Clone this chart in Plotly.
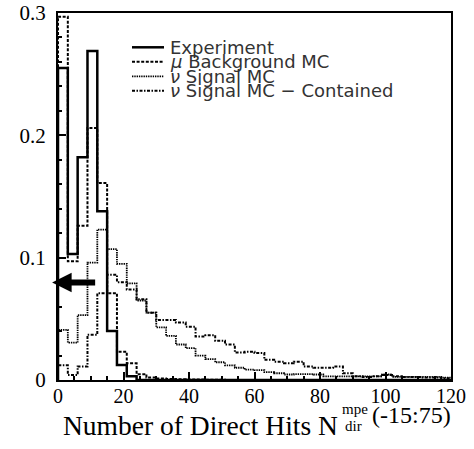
import numpy as np
import plotly.graph_objects as go

# ---------------- data ----------------
bin_edges = list(range(0, 121, 3))  # 40 bins of width 3 over 0..120

experiment = [0.255, 0.103, 0.182, 0.269, 0.138, 0.040, 0.0123, 0.003, 0, 0,
              0, 0, 0, 0, 0, 0, 0, 0, 0, 0,
              0, 0, 0, 0, 0, 0, 0, 0, 0, 0,
              0, 0, 0, 0, 0, 0, 0, 0, 0, 0]

mu_background = [0.297, 0.097, 0.126, 0.206, 0.161, 0.071, 0.023, 0.0136, 0.0048, 0.002,
                 0.0012, 0.0008, 0.0006, 0.0005, 0.0004, 0.0003, 0.0003, 0, 0, 0,
                 0, 0, 0, 0, 0, 0, 0, 0, 0, 0,
                 0, 0, 0, 0, 0, 0, 0, 0, 0, 0]

nu_signal = [0.041, 0.0305, 0.053, 0.096, 0.123, 0.107, 0.095, 0.079, 0.065, 0.055,
             0.043, 0.036, 0.029, 0.026, 0.020, 0.017, 0.0145, 0.012, 0.010, 0.0085,
             0.008, 0.0065, 0.0055, 0.0045, 0.0048, 0.0048, 0.0045, 0.003, 0.003, 0.003,
             0.003, 0.003, 0.003, 0.0045, 0.0025, 0.0025, 0.0025, 0.0025, 0.0025, 0.002]

nu_signal_contained = [0.012, 0.004, 0.011, 0.037, 0.071, 0.086, 0.080, 0.074, 0.066, 0.055,
                       0.049, 0.049, 0.047, 0.0436, 0.0355, 0.0365, 0.032, 0.029, 0.0225, 0.023,
                       0.022, 0.0165, 0.015, 0.0136, 0.015, 0.011, 0.010, 0.010, 0.011, 0.0055,
                       0.003, 0.0025, 0.003, 0.004, 0.003, 0.0025, 0.0025, 0.002, 0.002, 0.0015]

legend_labels = ["Experiment", "<i>μ</i> Background MC", "<i>ν</i> Signal MC",
                 "<i>ν</i> Signal MC − Contained"]

x_ticks = [0, 20, 40, 60, 80, 100, 120]
y_ticks = [0, 0.1, 0.2, 0.3]
y_ticktext = ["0", "0.1", "0.2", "0.3"]

cut_value = 0.0796  # arrow level
cut_from, cut_to = 11.8, -1.8

# ---------------- styles ----------------
styles = [
    dict(width=2.5, dash="solid"),          # experiment
    dict(width=2.0, dash="3px,1.6px"),      # mu background
    dict(width=1.8, dash="1.4px,0.9px"),    # nu signal
    dict(width=2.0, dash="3px,1.5px,1.5px,1.5px"),  # contained
]

W, H = 474, 449
L, R, T, B = 58, 23, 13, 69
pw, ph = W - L - R, H - T - B


def px2paper(px, py):
    return (px - L) / pw, (H - B - py) / ph


def step_xy(vals):
    x = [0] + bin_edges
    y = [0] + list(vals) + [vals[-1]]
    return x, y


fig = go.Figure()
series = [nu_signal_contained, nu_signal, mu_background, experiment]
sty = [styles[3], styles[2], styles[1], styles[0]]
for vals, st in zip(series, sty):
    x, y = step_xy(vals)
    fig.add_trace(go.Scatter(x=x, y=y, mode="lines", line_shape="hv",
                             line=dict(color="black", width=st["width"], dash=st["dash"]),
                             showlegend=False, hoverinfo="skip"))

serif = "Liberation Serif, Times New Roman, serif"
sans = "DejaVu Sans ExtraLight, DejaVu Sans, sans-serif"

fig.update_layout(
    width=W, height=H,
    margin=dict(l=L, r=R, t=T, b=B, pad=0),
    paper_bgcolor="white", plot_bgcolor="white",
    showlegend=False,
    xaxis=dict(range=[0, 120], tickvals=x_ticks, ticks="inside", ticklen=8, tickwidth=1.5,
               tickcolor="black", showline=True, linewidth=2, linecolor="black", mirror=True,
               showgrid=False, zeroline=False, ticklabelstandoff=-3, automargin=False,
               tickfont=dict(family=serif, size=20, color="black"),
               minor=dict(dtick=5, tick0=0, ticks="inside", ticklen=4, tickwidth=1.5,
                          tickcolor="black", showgrid=False)),
    yaxis=dict(range=[0, 0.3], tickvals=y_ticks, ticktext=y_ticktext, ticks="inside",
               ticklen=8, tickwidth=1.5, tickcolor="black", showline=True, linewidth=2,
               linecolor="black", mirror=True, showgrid=False, zeroline=False,
               ticklabelstandoff=6, automargin=False,
               tickfont=dict(family=serif, size=21, color="black"),
               minor=dict(dtick=0.02, tick0=0, ticks="inside", ticklen=4, tickwidth=1.5,
                          tickcolor="black", showgrid=False)),
)

annotations = []
# arrow
annotations.append(dict(x=cut_to, y=cut_value, ax=cut_from, ay=cut_value, xref="x", yref="y",
                        axref="x", ayref="y", showarrow=True, arrowhead=2, arrowsize=0.65,
                        arrowwidth=6, arrowcolor="black", text=""))

# axis title pieces
def add_text(text, px, py, size, xanchor="left", family=serif, color="black"):
    xp, yp = px2paper(px, py)
    annotations.append(dict(text=text, x=xp, y=yp, xref="paper", yref="paper",
                            xanchor=xanchor, yanchor="middle", showarrow=False,
                            font=dict(family=family, size=size, color=color),
                            borderpad=0))

add_text("Number of Direct Hits N", 62, 425, 27.5)
add_text("mpe", 341, 409, 15)
add_text("dir", 344, 426, 15)
add_text("(-15:75)", 371, 415, 24)

# legend
rows = [47.3, 61.8, 76.3, 90.8]
shapes = []
for lab, st, py in zip(legend_labels, styles, rows):
    x0, y0 = px2paper(132, py)
    x1, _ = px2paper(164, py)
    shapes.append(dict(type="line", xref="paper", yref="paper", x0=x0, x1=x1, y0=y0, y1=y0,
                       line=dict(color="black", width=st["width"], dash=st["dash"])))
    add_text(lab, 169, py, 18, family=sans, color="#333")

fig.update_layout(annotations=annotations, shapes=shapes)
fig.write_html("out.html")
